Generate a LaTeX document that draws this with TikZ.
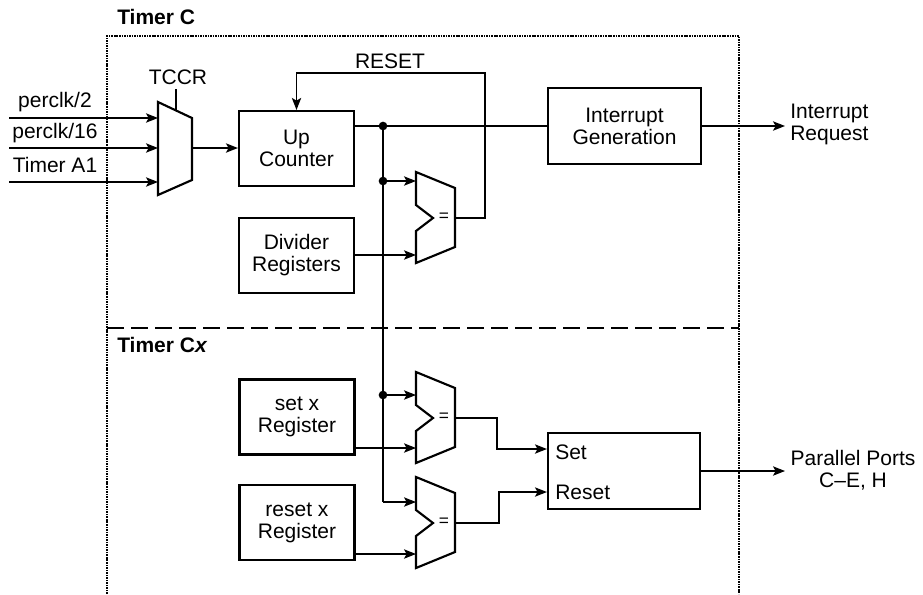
\documentclass[tikz,border=0pt]{standalone}
\usepackage{fontspec}
\setmainfont{Liberation Sans}
\usetikzlibrary{arrows.meta}

\tikzset{
  blk/.style={draw, line width=1.6pt, inner sep=0pt, align=center},
  wire/.style={line width=1pt},
  sig/.style={wire, -{Stealth[length=9pt,width=7pt,inset=2pt]}},
  jdot/.style={circle, fill, inner sep=0pt, minimum size=6.5pt},
  frame/.style={line width=1.6pt, dash pattern=on 1.2pt off 0.7pt},
  sep/.style={line width=1.6pt, dash pattern=on 13pt off 5pt},
  lbl/.style={inner sep=0pt, align=center}
}

\begin{document}
\begin{tikzpicture}[x=0.75pt,y=0.75pt,yscale=-1,xscale=1,
  font=\fontsize{15.75}{16.5}\selectfont]
\useasboundingbox (0,0) rectangle (923,594);

%Frame: Timer C / Timer Cx
\draw[frame] (107,594) -- (107,36) -- (739,36) -- (739,594);
\draw[sep] (107,328) -- (739,328);
\node[lbl, anchor=west, font=\fontsize{15.75}{16.5}\selectfont\bfseries] (ttlC) at (117,17) {Timer C};
\node[lbl, anchor=west, font=\fontsize{15.75}{16.5}\selectfont\bfseries] (ttlCx) at (117,345) {Timer C\textit{x}};

%Shape: Mux TCCR
\draw[line width=1.6pt] (158,102) -- (192,118) -- (192,180) -- (158,195) -- cycle;
\coordinate (mux) at (158,148);
\coordinate (muxo) at (192,148);
\coordinate (muxc) at (176,110);
\node[lbl] (tccr) at (178,77) {TCCR};
\draw[wire] (muxc) -- (176,89);

%Inputs
\node[lbl] (in1) at (55,102) {perclk/2};
\node[lbl] (in2) at (55,133) {perclk/16};
\node[lbl] (in3) at (55,165) {Timer A1};
\coordinate (s1) at (9,118);
\coordinate (s2) at (9,148);
\coordinate (s3) at (9,182);
\draw[sig] (s1) -- (s1 -| mux);
\draw[sig] (s2) -- (s2 -| mux);
\draw[sig] (s3) -- (s3 -| mux);

%Blocks
\node[blk, minimum width=86.25pt, minimum height=56.25pt] (cnt) at (296.5,148.5) {Up\\Counter};
\node[blk, minimum width=86.25pt, minimum height=56.25pt] (dvr) at (296.5,255.5) {Divider\\Registers};
\node[blk, minimum width=86.25pt, minimum height=56.25pt] (setr) at (297,417) {set x\\Register};
\node[blk, minimum width=86.25pt, minimum height=56.25pt] (rstr) at (297,522.5) {reset x\\Register};
\node[blk, minimum width=114.75pt, minimum height=57pt] (intg) at (624.5,126) {Interrupt\\Generation};
\node[blk, minimum width=114pt, minimum height=57pt] (ff) at (624,471) {};
\node[lbl, anchor=west] (fset) at (555,452) {Set};
\node[lbl, anchor=west] (frst) at (555,492) {Reset};

%Comparators
\foreach \n/\x/\y in {cmpA/416/172, cmpB/416/372, cmpC/416/477}{
  \draw[line width=1.6pt] (\x,\y) -- ++(39,16) -- ++(0,59) -- ++(-39,16) -- ++(0,-32) -- ++(17,-13) -- ++(-17,-13) -- cycle;
  \coordinate (\n) at (\x,\y);
  \coordinate (\n-o) at (\x+39,\y+46);
  \node[lbl, font=\fontsize{13}{13}\selectfont] (\n-eq) at (\x+28,\y+45) {=};
}

%Counter path
\draw[sig] (muxo) -- (muxo -| cnt.west);
\coordinate (j1) at (383,126);
\coordinate (j2) at (383,181);
\coordinate (j3) at (383,395);
\coordinate (j4) at (383,502);
\draw[wire] (cnt.east |- j1) -- (intg.west |- j1);
\draw[sig] (intg.east) -- (785,126);
\node[lbl, anchor=west, align=left] (irq) at (790,124) {Interrupt\\Request};
\draw[wire] (j1) -- (j4);
\node[jdot] (d1) at (j1) {};
\node[jdot] (d2) at (j2) {};
\node[jdot] (d3) at (j3) {};
\draw[sig] (j2) -- (j2 -| cmpA);
\draw[sig] (j3) -- (j3 -| cmpB);
\draw[sig] (j4) -- (j4 -| cmpC);

%Register inputs
\draw[sig] (dvr.east |- 0,255) -- (cmpA |- 0,255);
\draw[sig] (setr.east |- 0,448) -- (cmpB |- 0,448);
\draw[sig] (rstr.east |- 0,554) -- (cmpC |- 0,554);

%RESET feedback
\draw[sig] (cmpA-o) -- (485,218) -- (485,73) -- (cnt.north |- 0,73) -- (cnt.north);
\node[lbl] (rst) at (390,61) {RESET};

%Set / Reset
\draw[sig] (cmpB-o) -- (497,418) -- (497,449) -- (ff.west |- 0,449);
\draw[sig] (cmpC-o) -- (499,523) -- (499,492) -- (ff.west |- 0,492);
\draw[sig] (ff.east) -- (785,471);
\node[lbl] (pp) at (853,470) {Parallel Ports\\C–E, H};
\end{tikzpicture}
\end{document}
